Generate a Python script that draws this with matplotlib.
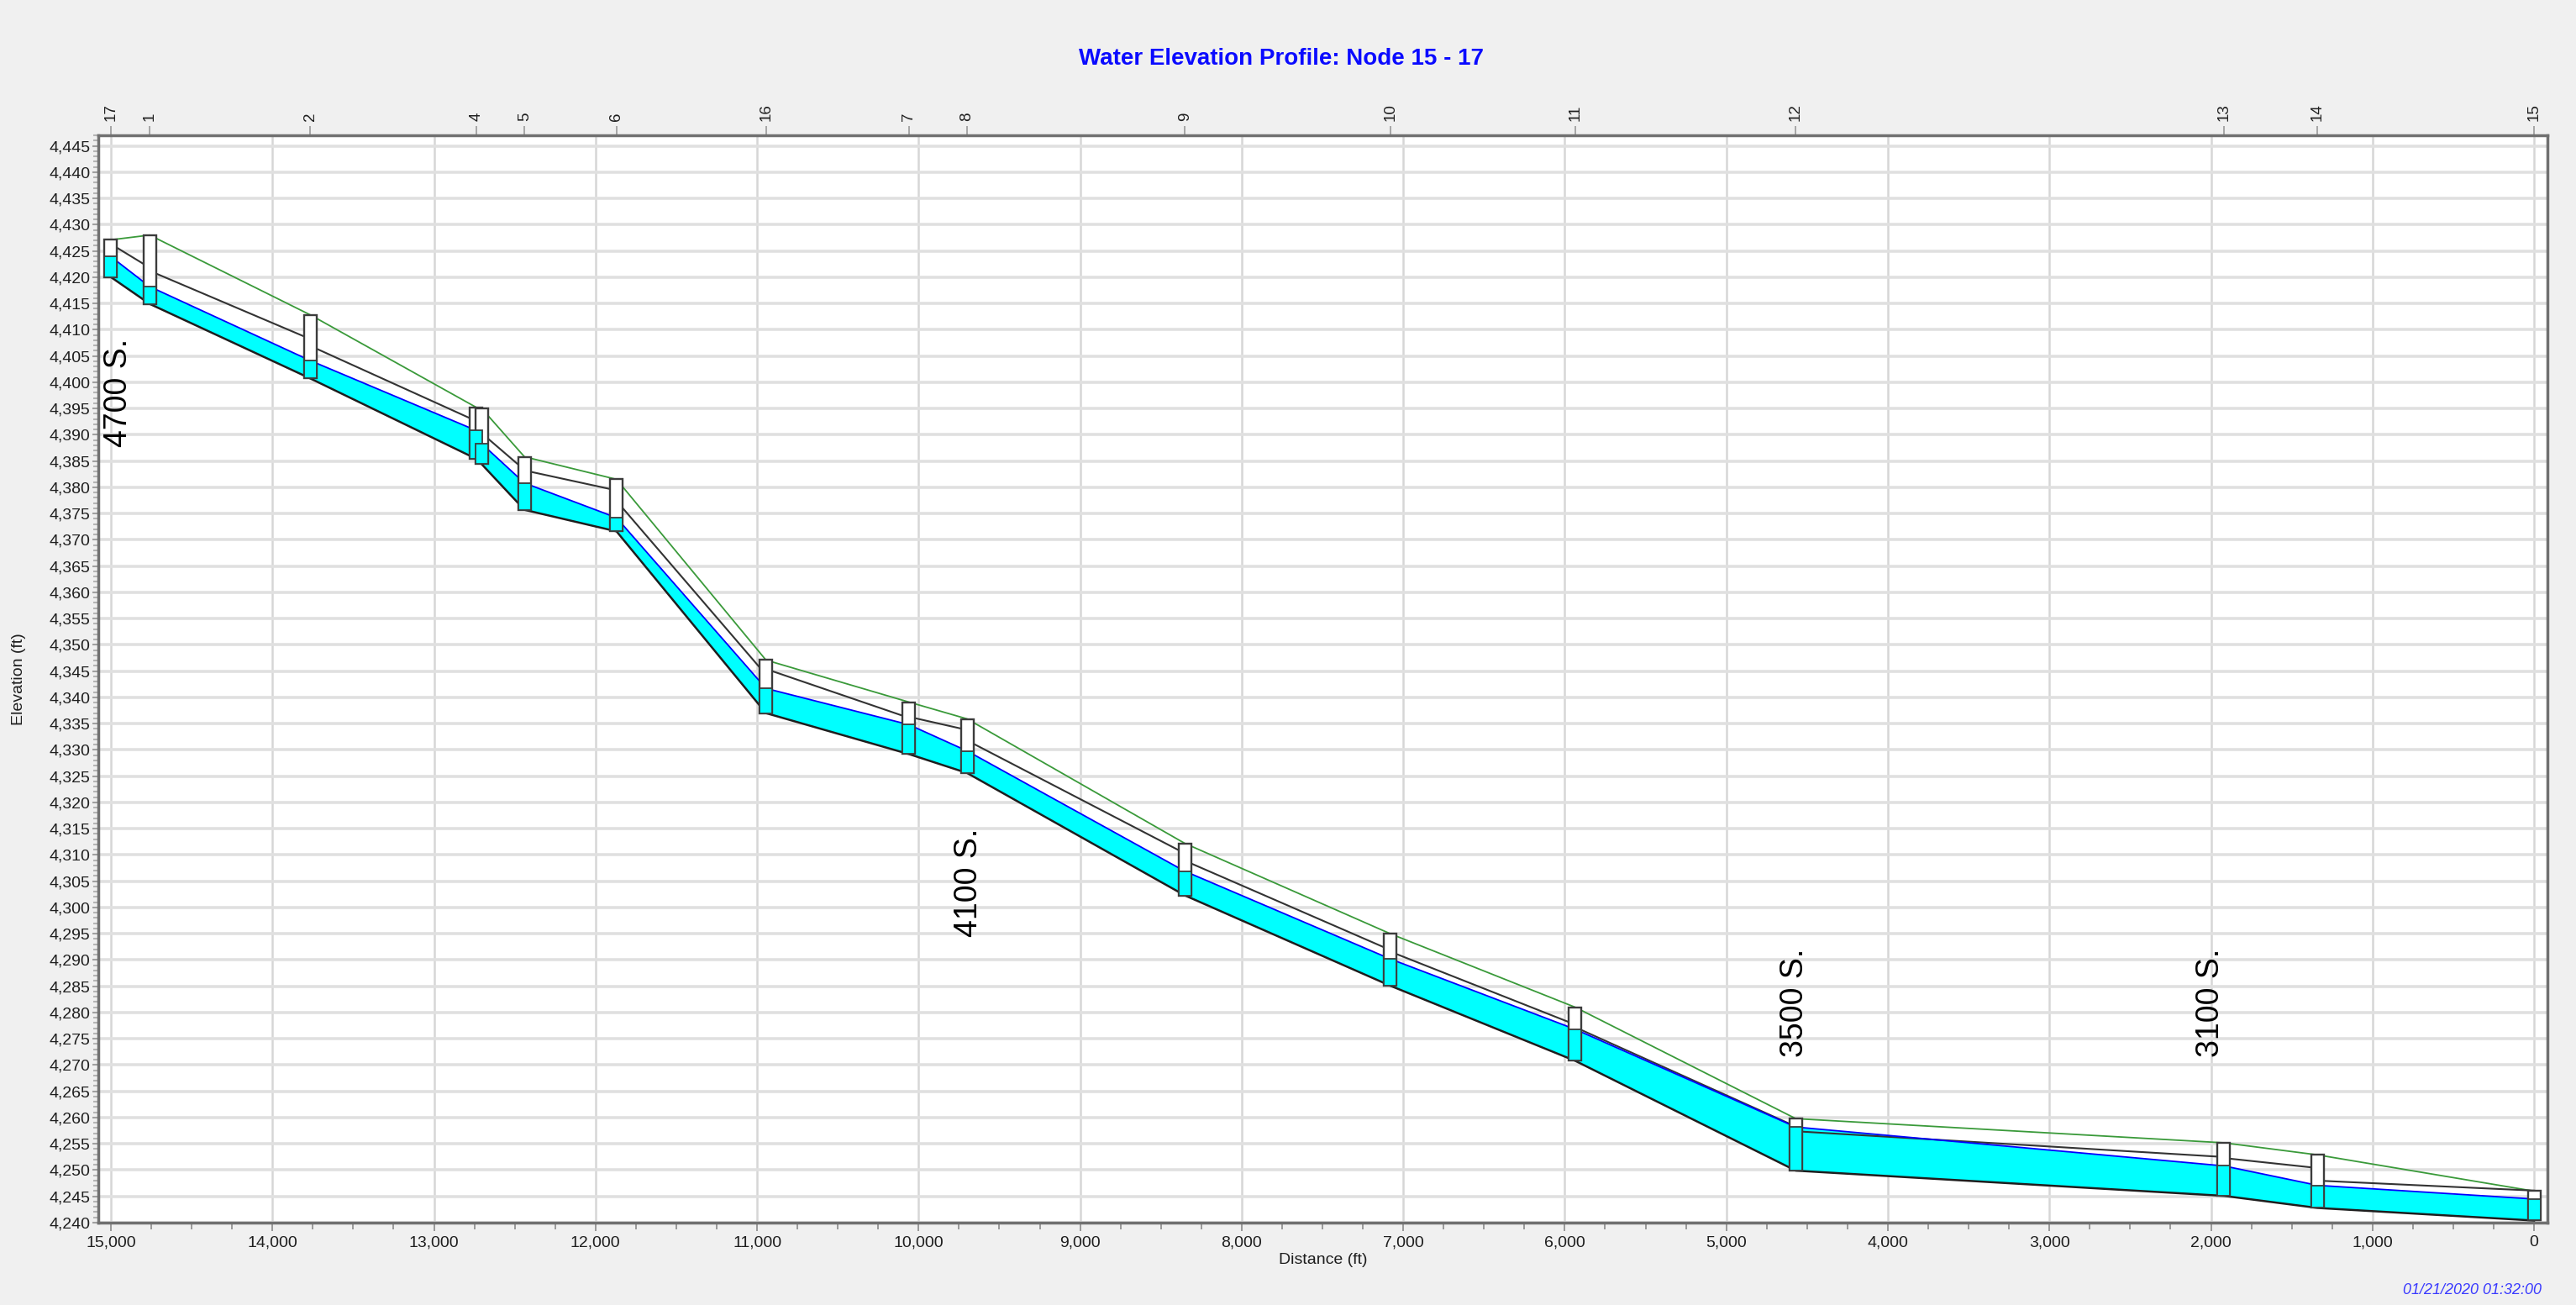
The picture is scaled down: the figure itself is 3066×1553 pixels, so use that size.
import numpy as np
import matplotlib
matplotlib.use("Agg")
import matplotlib.pyplot as plt
from matplotlib.patches import Rectangle
from matplotlib.ticker import FuncFormatter, MultipleLocator

plt.rcParams['font.family'] = ['Liberation Sans', 'DejaVu Sans']

# node data, upstream (17) to outfall (15)
node_names = ['17', '1', '2', '4', '3', '5', '6', '16', '7', '8', '9', '10', '11', '12', '13', '14', '15']
node_shown = [True, True, True, True, False, True, True, True, True, True, True, True, True, True, True, True, True]
node_dist = [15000, 14760, 13765, 12738, 12705, 12440, 11870, 10945, 10060, 9700, 8352, 7080, 5935, 4570, 1920, 1340, 0]
rim_elev = [4427.1, 4428.0, 4412.8, 4395.2, 4395.0, 4385.8, 4381.5, 4347.1, 4339.1, 4335.9,
            4312.2, 4295.0, 4281.0, 4259.8, 4255.2, 4252.9, 4246.0]
water_elev = [4423.9, 4418.2, 4404.1, 4390.8, 4388.3, 4380.8, 4374.2, 4341.7, 4334.8, 4329.8,
              4306.9, 4290.2, 4276.8, 4258.2, 4250.8, 4247.1, 4244.5]
invert_elev = [4420.0, 4414.9, 4400.7, 4385.4, 4384.4, 4375.7, 4371.6, 4337.0, 4329.2, 4325.6,
               4302.3, 4285.1, 4270.8, 4249.9, 4245.1, 4242.8, 4240.4]
# conduit crown at upstream / downstream end of each link
crown_up = [4426.3, 4421.2, 4406.9, 4392.4, 4390.3, 4383.2, 4377.4, 4345.4, 4336.3, 4331.8,
            4308.9, 4291.6, 4277.2, 4257.4, 4252.3, 4248.0]
crown_dn = [4421.8, 4408.2, 4392.6, 4391.5, 4383.3, 4379.4, 4344.3, 4336.1, 4333.8, 4310.3,
            4291.9, 4277.7, 4258.3, 4252.5, 4250.4, 4246.1]

streets = ['4700 S.', '4100 S.', '3500 S.', '3100 S.']
street_x = [14955, 9690, 4579, 2005]
street_y = [4397.9, 4304.8, 4281.9, 4281.9]

W, H = 3066, 1553
fig = plt.figure(figsize=(W / 100, H / 100), dpi=100, facecolor='#f0f0f0')
ax = fig.add_axes([117 / W, 1 - 1455 / H, (3032 - 117) / W, (1455 - 161) / H])
ax.set_facecolor('white')
ax.set_xlim(15078, -83)
ax.set_ylim(4240, 4447)

x = np.array(node_dist, dtype=float)
inv = np.array(invert_elev)
wat = np.array(water_elev)

ax.fill_between(x, inv, wat, color='#00ffff', lw=0, zorder=2)
ax.plot(x, rim_elev, color='#3a9a3a', lw=1.3, zorder=3)
for i in range(len(x) - 1):
    ax.plot([x[i], x[i + 1]], [crown_up[i], crown_dn[i]], color='#333333', lw=1.5, zorder=3)
ax.plot(x, wat, color='#0000ff', lw=1.3, zorder=3)
ax.plot(x, inv, color='#1e1e1e', lw=1.8, zorder=3)

bw = 78  # box width in ft
for xi, r, w, b in zip(x, rim_elev, water_elev, invert_elev):
    ax.add_patch(Rectangle((xi - bw / 2, b), bw, r - b, facecolor='white',
                           edgecolor='#3c3c3c', lw=1.7, zorder=4))
    ax.add_patch(Rectangle((xi - bw / 2, b), bw, w - b, facecolor='#00ffff',
                           edgecolor='#3c3c3c', lw=1.3, zorder=5))

for s, sx, sy in zip(streets, street_x, street_y):
    ax.text(sx, sy, s, rotation=90, ha='center', va='center', fontsize=27, color='black', zorder=6)

fmt = FuncFormatter(lambda v, p: f'{v:,.0f}')
ax.xaxis.set_major_locator(MultipleLocator(1000))
ax.xaxis.set_minor_locator(MultipleLocator(250))
ax.yaxis.set_major_locator(MultipleLocator(5))
ax.yaxis.set_minor_locator(MultipleLocator(1))
ax.xaxis.set_major_formatter(fmt)
ax.yaxis.set_major_formatter(fmt)

ax.set_axisbelow(True)
ax.grid(axis='x', which='major', color='#d6d6d6', lw=1.8)
ax.grid(axis='y', which='major', color='#e0e0e0', lw=2.6)

ax.tick_params(axis='x', which='major', length=7, width=1.2, color='#8a8a8a',
               labelsize=14, labelcolor='#1e1e1e', pad=4)
ax.tick_params(axis='x', which='minor', length=6, width=1.2, color='#8a8a8a')
ax.tick_params(axis='y', which='major', length=5, width=1.5, color='#a0a0a0',
               labelsize=14, labelcolor='#1e1e1e', pad=2)
ax.tick_params(axis='y', which='minor', length=4, width=1.5, color='#b4b4b4')

for sp in ax.spines.values():
    sp.set_color('#707070')
    sp.set_linewidth(2.5)

top = ax.secondary_xaxis('top')
top.set_xticks([d for d, s in zip(node_dist, node_shown) if s],
               labels=[n for n, s in zip(node_names, node_shown) if s])
top.tick_params(length=8, width=1.2, color='#9a9a9a', labelsize=13.5,
                labelcolor='#1e1e1e', pad=4, labelrotation=90)
top.spines['top'].set_visible(False)

ax.set_xlabel('Distance (ft)', fontsize=14, color='#1e1e1e', labelpad=3)
ax.set_ylabel('Elevation (ft)', fontsize=14, color='#1e1e1e')
ax.yaxis.set_label_coords((31 - 117) / (3032 - 117), 0.5)

fig.text(1525 / W, 1 - 70 / H, 'Water Elevation Profile: Node 15 - 17', ha='center', va='center',
         fontsize=20, fontweight='bold', color='#0a0aff')
fig.text(3025 / W, 1 - 1535 / H, '01/21/2020 01:32:00', ha='right', va='center',
         fontsize=13, style='italic', color='#3a3aff')

fig.savefig('out.png', dpi=100, facecolor=fig.get_facecolor())
